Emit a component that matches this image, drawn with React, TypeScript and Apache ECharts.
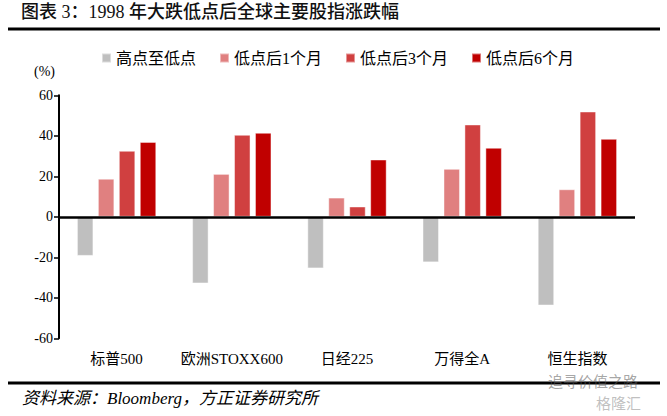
import React, { useEffect, useRef } from 'react';
import * as echarts from 'echarts';

const categories = ['标普500', '欧洲STOXX600', '日经225', '万得全A', '恒生指数'];
const seriesNames = ['高点至低点', '低点后1个月', '低点后3个月', '低点后6个月'];
const peakToTrough = [-19.3, -32.9, -25.5, -22.5, -43.8];
const after1m = [18.8, 21.2, 9.5, 23.7, 13.6];
const after3m = [32.6, 40.5, 5.1, 45.6, 52.0];
const after6m = [37.0, 41.5, 28.3, 34.1, 38.5];
const yMin = -60;
const yMax = 60;
const yStep = 20;

const colors = ['#BFBFBF', '#E08080', '#D04040', '#C00000'];
const SERIF = "'Liberation Serif', 'Times New Roman', 'Noto Sans CJK SC', serif";
const CJK = "'Liberation Serif', 'Noto Sans CJK SC', serif";

export default function App() {
  const ref = useRef<HTMLDivElement>(null);
  useEffect(() => {
    if (!ref.current) return;
    const chart = echarts.init(ref.current, null, { renderer: 'svg' });
    const values = [peakToTrough, after1m, after3m, after6m];
    const series: any[] = values.map((d, i) => ({
      name: seriesNames[i],
      type: 'bar',
      data: d,
      barWidth: 16.5,
      barGap: '27%',
      itemStyle: { color: colors[i], borderColor: 'rgba(255,255,255,0.45)', borderWidth: 1 },
      emphasis: { disabled: true },
      ...(i === 0
        ? {
            markLine: {
              silent: true,
              symbol: ['none', 'none'],
              label: { show: false },
              lineStyle: { color: '#000', width: 2.5, type: 'solid' },
              data: [{ yAxis: 0 }],
            },
          }
        : {}),
    }));
    chart.setOption({
      animation: false,
      legend: {
        data: seriesNames,
        left: 96,
        top: 45,
        itemWidth: 9,
        itemHeight: 9,
        itemGap: 23,
        icon: 'rect',
        textStyle: { fontFamily: CJK, fontSize: 16, color: '#000' },
      },
      grid: { left: 59, right: 32, top: 95.3, bottom: 77.7, containLabel: false },
      xAxis: {
        type: 'category',
        data: categories,
        axisLine: { show: false, onZero: false },
        axisTick: { show: false },
        axisLabel: { interval: 0, margin: 13, fontFamily: CJK, fontSize: 15, color: '#000' },
        splitLine: { show: false },
      },
      yAxis: {
        type: 'value',
        min: yMin,
        max: yMax,
        interval: yStep,
        axisLine: { show: true, lineStyle: { color: '#000', width: 2 } },
        axisTick: { show: true, length: 5, inside: false, lineStyle: { color: '#000', width: 1.5 } },
        axisLabel: { margin: 6, fontFamily: SERIF, fontSize: 14, color: '#000' },
        splitLine: { show: false },
      },
      graphic: [
        {
          type: 'text',
          left: 21,
          top: 3,
          style: { text: '图表 3：1998 年大跌低点后全球主要股指涨跌幅', font: `500 18px ${CJK}`, fill: '#111' },
        },
        { type: 'rect', shape: { x: 8, y: 27.5, width: 652, height: 3 }, style: { fill: '#000' } },
        {
          type: 'text',
          left: 34,
          top: 64,
          style: { text: '(%)', font: `14px ${SERIF}`, fill: '#000' },
        },
        { type: 'rect', shape: { x: 8, y: 381.5, width: 652, height: 3 }, style: { fill: '#000' } },
        {
          type: 'text',
          left: 22,
          top: 390,
          style: { text: '资料来源：Bloomberg，方正证券研究所', font: `italic 17px ${CJK}`, fill: '#000' },
        },
        {
          type: 'text',
          left: 548,
          top: 373,
          style: { text: '追寻价值之路', font: `15px 'Noto Sans CJK SC'`, fill: 'rgba(90,90,90,0.55)' },
        },
        {
          type: 'text',
          left: 596,
          top: 395,
          style: { text: '格隆汇', font: `15px 'Noto Sans CJK SC'`, fill: 'rgba(150,150,150,0.6)' },
        },
      ],
      series,
    });
    return () => chart.dispose();
  }, []);
  return <div ref={ref} style={{ position: 'fixed', left: 0, top: 0, width: 667, height: 416, background: '#fff' }} />;
}
